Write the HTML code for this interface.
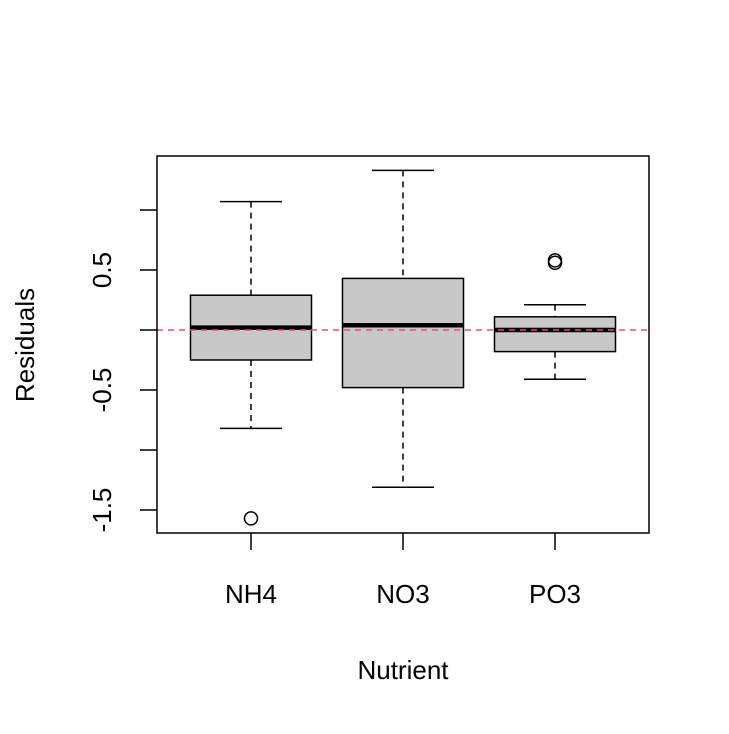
<!DOCTYPE html>
<html><head><meta charset="utf-8"><style>
body{margin:0;background:#fff}
text{font-family:"Liberation Sans",Arial,sans-serif;fill:#000}
</style></head><body>
<svg id="chart" width="729" height="729" viewBox="0 0 729 729" xmlns="http://www.w3.org/2000/svg">
<rect width="729" height="729" fill="#fff"/>
<g id="marks"></g>
<g id="axes"></g>
</svg>
<script>
const categories = ["NH4","NO3","PO3"];
const whiskerHigh = [1.07, 1.33, 0.21];
const q3 = [0.29, 0.43, 0.11];
const medians = [0.02, 0.04, 0.0];
const q1 = [-0.25, -0.48, -0.18];
const whiskerLow = [-0.82, -1.31, -0.41];
const outliers = [[-1.57], [], [0.58, 0.56]];
const yTicks = [-1.5, -1.0, -0.5, 0, 0.5, 1.0];
const yTickLabels = ["-1.5","","-0.5","","0.5",""];

const NS="http://www.w3.org/2000/svg";
const pL=157,pR=649,pT=156,pB=533;
const yS=v=>330-120*v;
const xS=i=>251+152*i;
function mk(tag,attrs,parent,txt){const e=document.createElementNS(NS,tag);for(const k in attrs)e.setAttribute(k,attrs[k]);if(txt!==undefined)e.textContent=txt;parent.appendChild(e);return e;}
const marks=document.getElementById('marks'), axes=document.getElementById('axes');
const bw=121, cw=62;
categories.forEach((c,i)=>{
  const g=mk('g',{},marks);
  
  
  const cx=xS(i);
  mk('line',{x1:cx,x2:cx,y1:yS(whiskerHigh[i]),y2:yS(q3[i]),stroke:'#000','stroke-width':1.5,'stroke-dasharray':'6,5'},g);
  mk('line',{x1:cx,x2:cx,y1:yS(q1[i]),y2:yS(whiskerLow[i]),stroke:'#000','stroke-width':1.5,'stroke-dasharray':'6,5'},g);
  mk('line',{x1:cx-cw/2,x2:cx+cw/2,y1:yS(whiskerHigh[i]),y2:yS(whiskerHigh[i]),stroke:'#000','stroke-width':1.5},g);
  mk('line',{x1:cx-cw/2,x2:cx+cw/2,y1:yS(whiskerLow[i]),y2:yS(whiskerLow[i]),stroke:'#000','stroke-width':1.5},g);
  mk('rect',{x:cx-bw/2,y:yS(q3[i]),width:bw,height:yS(q1[i])-yS(q3[i]),fill:'#c8c8c8',stroke:'#000','stroke-width':1.5},g);
  mk('line',{x1:cx-bw/2,x2:cx+bw/2,y1:yS(medians[i]),y2:yS(medians[i]),stroke:'#000','stroke-width':4.5},g);
  outliers[i].forEach(v=>{
    const o=mk('circle',{cx:cx,cy:yS(v),r:6.5,fill:'none',stroke:'#000','stroke-width':1.5},g);
    
    
  });
  mk('line',{x1:cx,x2:cx,y1:pB,y2:pB+17,stroke:'#000','stroke-width':1.5},axes);
  const l=mk('text',{x:cx,y:603,'font-size':26,'text-anchor':'middle'},axes,c);
  
  
});
const ref=mk('line',{x1:pL,x2:pR,y1:yS(0),y2:yS(0),stroke:'#DF536B','stroke-width':1.5,'stroke-dasharray':'6,5'},marks);


const frame=mk('rect',{x:pL,y:pT,width:pR-pL,height:pB-pT,fill:'none',stroke:'#000','stroke-width':1.5},axes);


yTicks.forEach((v,i)=>{
  mk('line',{x1:pL-17,x2:pL,y1:yS(v),y2:yS(v),stroke:'#000','stroke-width':1.5},axes);
  if(yTickLabels[i]){
    const t=mk('text',{x:0,y:0,'font-size':26,'text-anchor':'middle',transform:`translate(111,${yS(v)}) rotate(-90)`},axes,yTickLabels[i]);
    
    
  }
});
const yt=mk('text',{x:0,y:0,'font-size':26,'text-anchor':'middle',transform:'translate(34,345) rotate(-90)'},axes,'Residuals');


const xt=mk('text',{x:403,y:679,'font-size':26,'text-anchor':'middle'},axes,'Nutrient');


</script>
</body></html>
